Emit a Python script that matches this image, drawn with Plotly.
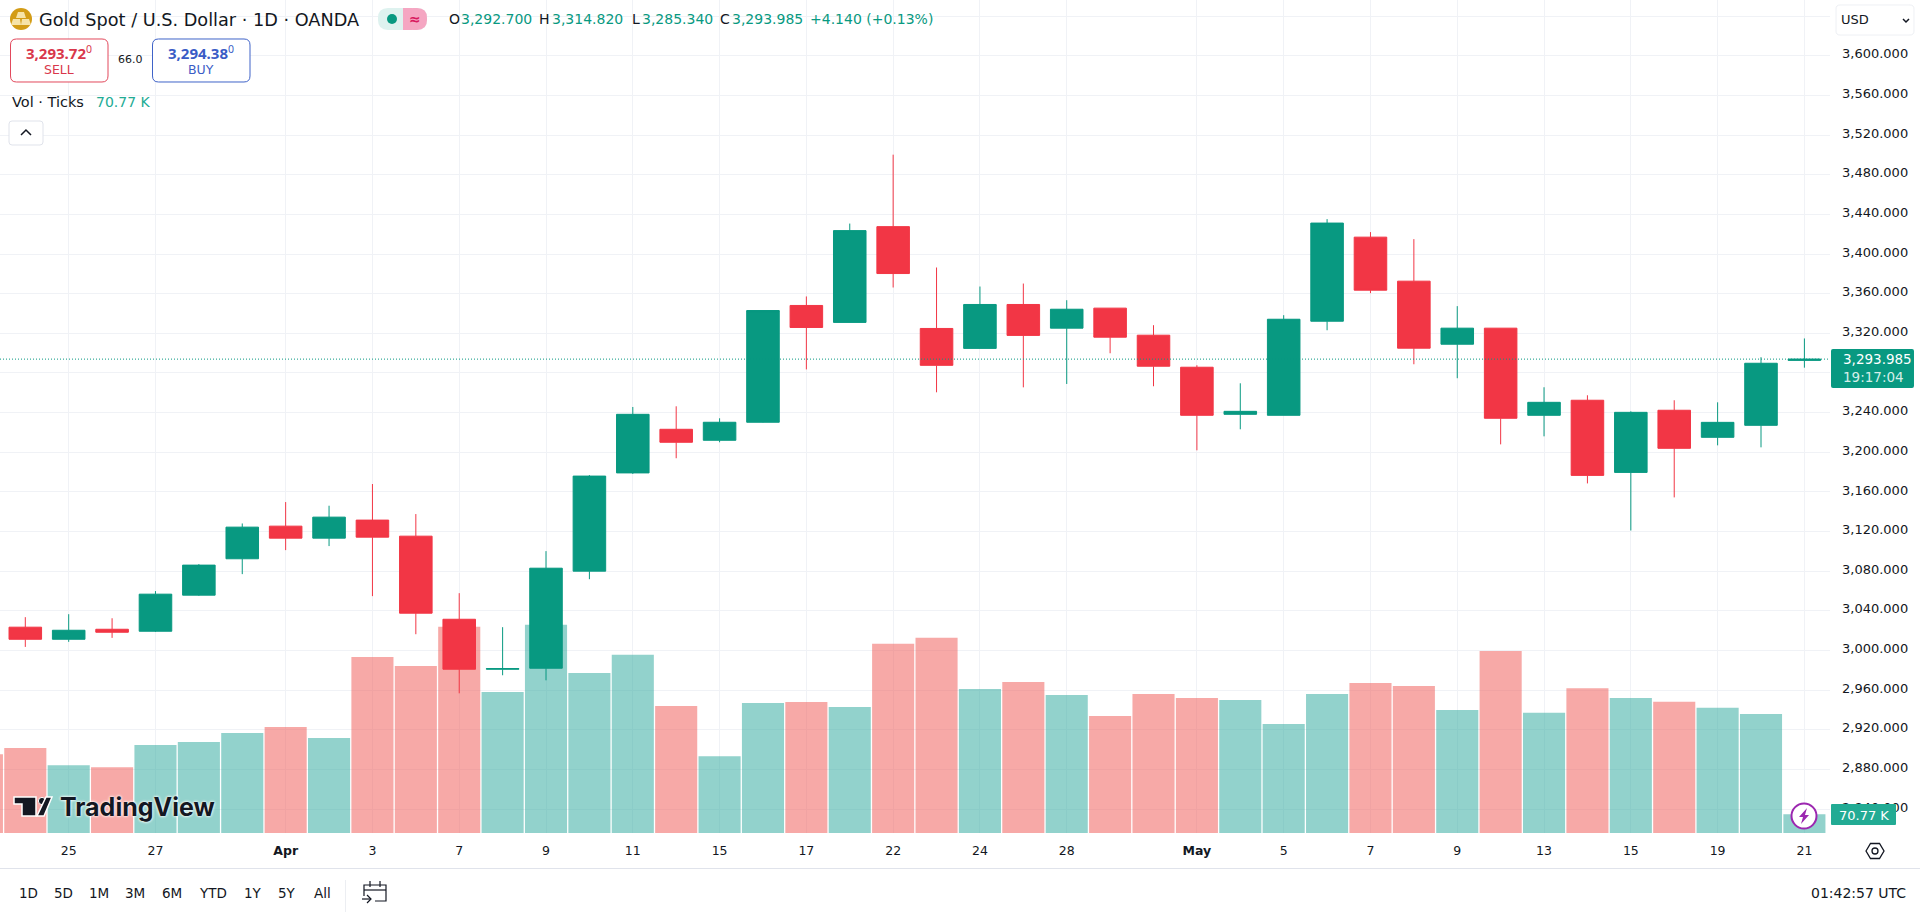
import plotly.graph_objects as go

# candles, index 0 is the leftmost full candle
opens = [3023.6, 3011.4, 3021.5, 3019.5, 3055.9, 3092.6, 3125.5, 3113.4, 3131.6, 3115.4, 3031.6, 2981.2,
         2982.2, 3080.1, 3179.2, 3223.2, 3212.1, 3230.3, 3348.1, 3331.0, 3427.6, 3324.9, 3304.8, 3349.1,
         3325.2, 3345.4, 3318.1, 3285.8, 3238.3, 3237.3, 3332.2, 3417.0, 3372.6, 3309.0, 3325.2, 3237.3,
         3252.5, 3179.7, 3242.4, 3215.1, 3227.2, 3292.7]
highs = [3033.7, 3036.7, 3032.6, 3060.0, 3087.2, 3128.2, 3149.8, 3146.1, 3168.0, 3137.7, 3057.9, 3023.6,
         3100.3, 3177.0, 3245.7, 3246.4, 3234.3, 3343.0, 3357.2, 3430.7, 3500.2, 3386.4, 3367.2, 3370.2,
         3353.4, 3345.4, 3328.2, 3287.8, 3269.6, 3338.3, 3435.2, 3422.1, 3415.0, 3347.4, 3325.2, 3265.6,
         3257.5, 3241.3, 3252.5, 3250.4, 3295.9, 3314.82]
lows = [3003.7, 3008.8, 3012.8, 3018.8, 3055.2, 3077.1, 3101.3, 3105.4, 3054.9, 3016.5, 2956.9, 2975.1,
        2970.0, 3072.0, 3178.2, 3194.0, 3210.1, 3230.0, 3283.6, 3331.0, 3366.2, 3260.5, 3304.8, 3265.5,
        3268.9, 3299.9, 3266.6, 3202.0, 3223.2, 3237.3, 3323.1, 3360.5, 3288.8, 3274.7, 3208.0, 3216.1,
        3168.6, 3121.1, 3154.5, 3207.0, 3205.0, 3285.34]
closes = [3011.4, 3020.5, 3018.5, 3056.9, 3086.2, 3124.5, 3113.4, 3134.6, 3114.4, 3037.7, 2981.2, 2981.8,
          3083.1, 3176.0, 3238.3, 3210.1, 3230.3, 3343.0, 3325.9, 3423.6, 3380.3, 3287.7, 3349.1, 3317.9,
          3344.3, 3316.1, 3286.8, 3237.3, 3241.3, 3334.2, 3431.2, 3363.5, 3305.0, 3325.2, 3234.3, 3250.4,
          3176.7, 3240.3, 3204.0, 3230.2, 3289.8, 3293.985]

# ticks volume in thousands, first value belongs to the cut off bar at the left edge
volumes = [298.2, 321.0, 256.5, 248.9, 332.4, 343.7, 377.8, 400.6, 358.9, 666.0, 631.9, 779.7, 533.3,
           787.3, 605.3, 673.6, 480.2, 290.7, 491.6, 495.4, 476.4, 715.3, 738.0, 544.7, 571.2, 521.9,
           442.3, 525.7, 510.5, 503.0, 412.0, 525.7, 567.4, 556.0, 465.0, 688.7, 454.9, 547.2, 510.5,
           496.6, 473.9, 449.9, 70.77]

date_ticks = [1, 3, 6, 8, 10, 12, 14, 16, 18, 20, 22, 24, 27, 29, 31, 33, 35, 37, 39, 41]
date_labels = ["25", "27", "<b>Apr</b>", "3", "7", "9", "11", "15", "17", "22", "24", "28", "<b>May</b>",
               "5", "7", "9", "13", "15", "19", "21"]

price_ticks = [2840, 2880, 2920, 2960, 3000, 3040, 3080, 3120, 3160, 3200, 3240, 3280, 3320, 3360, 3400,
               3440, 3480, 3520, 3560, 3600, 3640]
price_labels = ["2,840.000", "2,880.000", "2,920.000", "2,960.000", "3,000.000", "3,040.000", "3,080.000",
                "3,120.000", "3,160.000", "3,200.000", "3,240.000", "", "3,320.000", "3,360.000",
                "3,400.000", "3,440.000", "3,480.000", "3,520.000", "3,560.000", "3,600.000", ""]

range_buttons = ["1D", "5D", "1M", "3M", "6M", "YTD", "1Y", "5Y", "All"]
range_centers = [28, 63, 99, 135, 172, 213, 253, 287, 322]

last_close = closes[-1]
last_volume = volumes[-1]

W, H = 1920, 912
PLOT_RIGHT = 1830
PLOT_BOTTOM = 833
FONT = "DejaVu Sans"
BOLD_FONT = "Noto Sans"
UP = "#089981"
DOWN = "#F23645"
TEXT = "#131722"
GRID = "#f0f2f6"


def px(x):
    return x / W


def py(y):
    return 1 - y / H


def poly(points, fill=None, line=None, width=1):
    path = "M " + " L ".join(f"{px(x):.5f},{py(y):.5f}" for x, y in points) + " Z"
    return dict(type="path", xref="paper", yref="paper", path=path, fillcolor=fill or "rgba(0,0,0,0)",
                line=dict(color=line or "rgba(0,0,0,0)", width=width), layer="above")


def open_path(points, line, width=1.5):
    path = "M " + " L ".join(f"{px(x):.5f},{py(y):.5f}" for x, y in points)
    return dict(type="path", xref="paper", yref="paper", path=path, fillcolor="rgba(0,0,0,0)",
                line=dict(color=line, width=width), layer="above")


def round_box(x0, y0, x1, y1, r, fill=None, line=None, width=1):
    p = (f"M {px(x0 + r):.5f},{py(y0):.5f} L {px(x1 - r):.5f},{py(y0):.5f} "
         f"Q {px(x1):.5f},{py(y0):.5f} {px(x1):.5f},{py(y0 + r):.5f} "
         f"L {px(x1):.5f},{py(y1 - r):.5f} Q {px(x1):.5f},{py(y1):.5f} {px(x1 - r):.5f},{py(y1):.5f} "
         f"L {px(x0 + r):.5f},{py(y1):.5f} Q {px(x0):.5f},{py(y1):.5f} {px(x0):.5f},{py(y1 - r):.5f} "
         f"L {px(x0):.5f},{py(y0 + r):.5f} Q {px(x0):.5f},{py(y0):.5f} {px(x0 + r):.5f},{py(y0):.5f} Z")
    return dict(type="path", xref="paper", yref="paper", path=p, fillcolor=fill or "rgba(0,0,0,0)",
                line=dict(color=line or "rgba(0,0,0,0)", width=width), layer="above")


def circle(cx, cy, r, fill=None, line=None, width=1):
    return dict(type="circle", xref="paper", yref="paper", x0=px(cx - r), x1=px(cx + r), y0=py(cy + r),
                y1=py(cy - r), fillcolor=fill or "rgba(0,0,0,0)",
                line=dict(color=line or "rgba(0,0,0,0)", width=width), layer="above")


def rect(x0, y0, x1, y1, fill):
    return dict(type="rect", xref="paper", yref="paper", x0=px(x0), x1=px(x1), y0=py(y1), y1=py(y0),
                fillcolor=fill, line=dict(width=0), layer="above")


def label(x, y, text, size=13, color=TEXT, anchor="left", font=FONT, **kw):
    return dict(xref="paper", yref="paper", x=px(x), y=py(y), text=text, showarrow=False, xanchor=anchor,
                yanchor="middle", borderpad=0, font=dict(family=font, size=size, color=color, **kw))


fig = go.Figure()

# volume goes on the base axis so the candles stay on top of it
vol_x = list(range(-1, len(closes)))
vol_up = [False] + [c >= o for o, c in zip(opens, closes)]
fig.add_trace(go.Bar(x=vol_x, y=volumes, width=0.97, yaxis="y", hoverinfo="skip",
                     marker=dict(color=["rgba(38,166,154,0.5)" if u else "rgba(239,83,80,0.5)" for u in vol_up],
                                 line=dict(width=0))))

fig.add_trace(go.Candlestick(x=list(range(len(closes))), open=opens, high=highs, low=lows, close=closes,
                             yaxis="y2", whiskerwidth=0,
                             increasing=dict(line=dict(color=UP, width=1), fillcolor=UP),
                             decreasing=dict(line=dict(color=DOWN, width=1), fillcolor=DOWN)))

shapes = [
    # last price line
    dict(type="line", xref="paper", yref="y2", x0=0, x1=px(PLOT_RIGHT), y0=last_close, y1=last_close,
         line=dict(color=UP, width=1, dash="1px,2px"), layer="above"),
    # panel divider and bottom toolbar
    rect(0, 868, W, 869, "#e0e3eb"),
    rect(345, 880, 346, 912, "#eceef2"),
    # gold icon
    circle(21, 19, 11, fill="#d39c16"),
    poly([(18, 12), (24, 12), (26, 18), (16, 18)], fill="#f6e3a8"),
    poly([(13, 19), (20, 19), (21, 25), (11, 25)], fill="#f6e3a8"),
    poly([(22, 19), (29, 19), (31, 25), (21, 25)], fill="#f6e3a8"),
    # market status pill
    round_box(378, 8, 427, 30, 10, fill="#def2ef"),
    round_box(403, 8, 427, 30, 10, fill="#f5a6c2"),
    rect(403, 8, 412, 30, "#f5a6c2"),
    circle(392, 19, 5, fill=UP),
    # sell and buy boxes
    round_box(10.5, 39, 108, 82, 6, fill="#ffffff", line="#e2495c"),
    round_box(152.5, 39, 250, 82, 6, fill="#ffffff", line="#3f63c8"),
    # collapse button
    round_box(9, 121, 43, 145, 3, fill="#ffffff", line="#e0e3eb"),
    open_path([(21, 135), (26, 130), (31, 135)], TEXT),
    # currency dropdown
    round_box(1836, 5, 1914, 35, 4, fill="#ffffff", line="#eef0f4"),
    open_path([(1903, 19), (1906, 22), (1909, 19)], TEXT),
    # last price and volume badges
    round_box(1831, 349, 1914, 388, 2, fill=UP),
    round_box(1831, 804, 1896, 825, 1, fill="#22ab94"),
    # lightning badge
    circle(1804, 816, 12.5, fill="#ffffff", line="#9c27b0", width=2),
    poly([(1807, 808), (1799, 817), (1803, 817), (1801, 824), (1809, 815), (1805, 815)], fill="#9c27b0"),
    # settings hexagon
    poly([(1866, 851), (1870.5, 843.5), (1879.5, 843.5), (1884, 851), (1879.5, 858.5), (1870.5, 858.5)],
         line=TEXT, width=1.3),
    circle(1875, 851, 3, line=TEXT, width=1.3),
    # go to date icon
    open_path([(386, 892), (386, 885), (364, 885), (364, 896)], TEXT, 1.2),
    open_path([(364, 890), (386, 890)], TEXT, 1.2),
    open_path([(386, 892), (386, 901), (375, 901)], TEXT, 1.2),
    open_path([(370, 881), (370, 887)], TEXT, 1.2),
    open_path([(380, 881), (380, 887)], TEXT, 1.2),
    open_path([(362, 899), (371, 899)], TEXT, 1.2),
    open_path([(367, 895), (371, 899), (367, 903)], TEXT, 1.2),
    # logo mark
    poly([(14, 797), (36, 797), (36, 816), (22, 816), (22, 804), (14, 804)], fill=TEXT, line="#ffffff", width=1.5),
    circle(42, 801, 3.6, fill=TEXT, line="#ffffff", width=1),
    poly([(46, 797), (52, 797), (44, 816), (37, 816)], fill=TEXT, line="#ffffff", width=1.5),
]

annotations = [
    label(38, 20, "Gold Spot / U.S. Dollar · 1D · OANDA", size=17.7),
    label(414.5, 19, "≈", size=14, color="#d81b60", anchor="center", weight="bold"),
    label(448, 19, "O", size=14), label(460, 19, "3,292.700", size=14, color=UP),
    label(538, 19, "H", size=14), label(551, 19, "3,314.820", size=14, color=UP),
    label(631, 19, "L", size=14), label(641, 19, "3,285.340", size=14, color=UP),
    label(719, 19, "C", size=14), label(731, 19, "3,293.985", size=14, color=UP),
    label(809, 19, "+4.140 (+0.13%)", size=14, color=UP),
    label(59, 53, "<b>3,293.72</b><sup>0</sup>", size=15, color="#d9374b", anchor="center", font=BOLD_FONT),
    label(59, 70, "SELL", size=12.5, color="#d9374b", anchor="center"),
    label(130, 60, "66.0", size=11, anchor="center"),
    label(201, 53, "<b>3,294.38</b><sup>0</sup>", size=15, color="#3a5cc6", anchor="center", font=BOLD_FONT),
    label(201, 70, "BUY", size=12.5, color="#3a5cc6", anchor="center"),
    label(11, 102, "Vol · Ticks", size=14.5),
    label(95, 102, f"{last_volume} K", size=14, color="#22ab94"),
    label(1840, 20, "USD", size=13),
    label(1842, 359, f"{last_close:,.3f}", size=13.5, color="#ffffff"),
    label(1842, 377, "19:17:04", size=13.5, color="#d5efe9"),
    label(1863.5, 815, f"{last_volume} K", size=13, color="#ffffff", anchor="center"),
    label(1907, 893, "01:42:57 UTC", size=14, anchor="right"),
    label(59, 807, "TradingView", size=25, font="Inter", weight="bold", shadow="0 0 3px #ffffff, 0 0 3px #ffffff"),
]
for name, center in zip(range_buttons, range_centers):
    annotations.append(label(center, 893, name, size=13.5, anchor="center"))

fig.update_layout(
    width=W, height=H, margin=dict(l=0, r=0, t=0, b=0), paper_bgcolor="#ffffff", plot_bgcolor="#ffffff",
    showlegend=False, barmode="overlay", boxgap=0.25, boxgroupgap=0, hovermode=False,
    font=dict(family=FONT, color=TEXT), shapes=shapes, annotations=annotations,
    xaxis=dict(domain=[0, px(PLOT_RIGHT)], range=[-0.583, 41.59], tickvals=date_ticks, ticktext=date_labels,
               showgrid=True, gridcolor=GRID, gridwidth=1, zeroline=False, showline=False, ticks="",
               ticklabelstandoff=8, tickfont=dict(size=12.5, color=TEXT), rangeslider=dict(visible=False),
               fixedrange=True),
    yaxis=dict(domain=[py(PLOT_BOTTOM), 1], range=[0, 3150], visible=False, fixedrange=True),
    yaxis2=dict(domain=[py(PLOT_BOTTOM), 1], overlaying="y", side="right", anchor="x",
                range=[2816.0, 3656.2], tickvals=price_ticks, ticktext=price_labels, showgrid=True,
                gridcolor=GRID, gridwidth=1, zeroline=False, showline=False, ticks="", ticklabelstandoff=11,
                ticklabelshift=-2, tickfont=dict(size=13, color=TEXT), fixedrange=True),
)

fig.write_html("out.html", config=dict(displayModeBar=False),
               post_script="document.body.style.margin='0';document.body.style.overflow='hidden';")
